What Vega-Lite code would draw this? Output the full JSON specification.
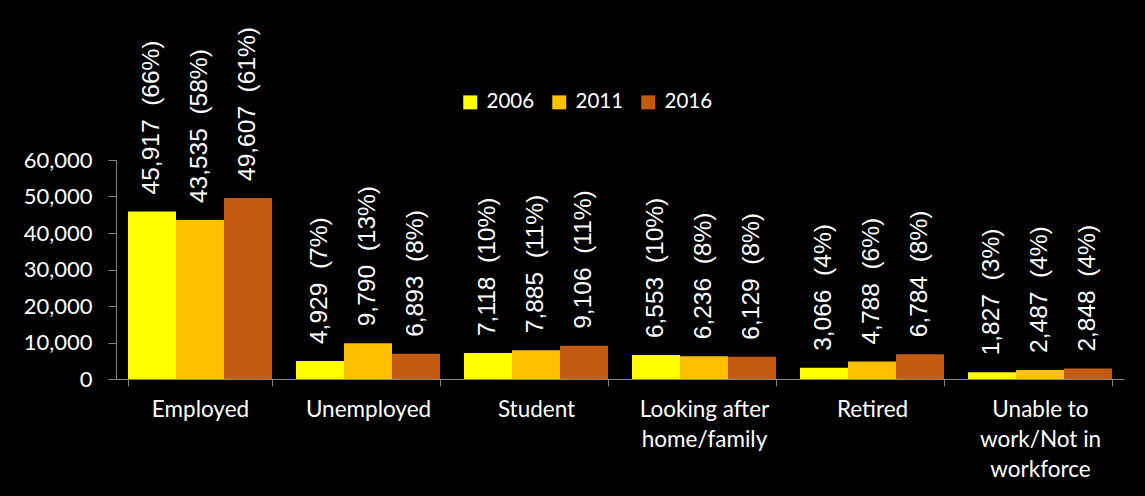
{
  "$schema": "https://vega.github.io/schema/vega-lite/v6.json",
  "autosize": {"type": "none"},
  "width": 1008,
  "height": 219,
  "padding": {"left": 116, "top": 160, "right": 21, "bottom": 117},
  "background": "#000000",
  "config": {"view": {"stroke": null}},
  "data": {
    "values": [
      {"status": "Employed", "year": "2006", "count": 45917, "label": "45,917 \u00a0(66%)"},
      {"status": "Employed", "year": "2011", "count": 43535, "label": "43,535 \u00a0(58%)"},
      {"status": "Employed", "year": "2016", "count": 49607, "label": "49,607 \u00a0(61%)"},
      {"status": "Unemployed", "year": "2006", "count": 4929, "label": "4,929 \u00a0(7%)"},
      {"status": "Unemployed", "year": "2011", "count": 9790, "label": "9,790 \u00a0(13%)"},
      {"status": "Unemployed", "year": "2016", "count": 6893, "label": "6,893 \u00a0(8%)"},
      {"status": "Student", "year": "2006", "count": 7118, "label": "7,118 \u00a0(10%)"},
      {"status": "Student", "year": "2011", "count": 7885, "label": "7,885 \u00a0(11%)"},
      {"status": "Student", "year": "2016", "count": 9106, "label": "9,106 \u00a0(11%)"},
      {"status": "Looking after home/family", "year": "2006", "count": 6553, "label": "6,553 \u00a0(10%)"},
      {"status": "Looking after home/family", "year": "2011", "count": 6236, "label": "6,236 \u00a0(8%)"},
      {"status": "Looking after home/family", "year": "2016", "count": 6129, "label": "6,129 \u00a0(8%)"},
      {"status": "Retired", "year": "2006", "count": 3066, "label": "3,066 \u00a0(4%)"},
      {"status": "Retired", "year": "2011", "count": 4788, "label": "4,788 \u00a0(6%)"},
      {"status": "Retired", "year": "2016", "count": 6784, "label": "6,784 \u00a0(8%)"},
      {"status": "Unable to work/Not in workforce", "year": "2006", "count": 1827, "label": "1,827 \u00a0(3%)"},
      {"status": "Unable to work/Not in workforce", "year": "2011", "count": 2487, "label": "2,487 \u00a0(4%)"},
      {"status": "Unable to work/Not in workforce", "year": "2016", "count": 2848, "label": "2,848 \u00a0(4%)"}
    ]
  },
  "encoding": {
    "x": {
      "field": "status",
      "type": "nominal",
      "sort": null,
      "scale": {"paddingInner": 0.143, "paddingOuter": 0.0715},
      "axis": {
        "title": null,
        "labelAngle": 0,
        "tickBand": "extent",
        "tickSize": 7,
        "tickColor": "#868686",
        "domainColor": "#868686",
        "labelColor": "#FFFFFF",
        "labelFont": "Lato",
        "labelFontSize": 22.5,
        "labelPadding": 12,
        "labelLineHeight": 30,
        "labelBaseline": "top",
        "labelLimit": 0,
        "labelExpr": "datum.value == 'Looking after home/family' ? ['Looking after', 'home/family'] : datum.value == 'Unable to work/Not in workforce' ? ['Unable to', 'work/Not in', 'workforce'] : datum.value"
      }
    },
    "xOffset": {"field": "year", "type": "nominal", "scale": {"paddingInner": 0, "paddingOuter": 0}},
    "y": {
      "field": "count",
      "type": "quantitative",
      "scale": {"domain": [0, 60000], "nice": false},
      "axis": {
        "title": null,
        "values": [0, 10000, 20000, 30000, 40000, 50000, 60000],
        "format": ",d",
        "grid": false,
        "tickSize": 8,
        "tickColor": "#868686",
        "domainColor": "#868686",
        "labelColor": "#FFFFFF",
        "labelFont": "Lato",
        "labelFontSize": 22,
        "labelPadding": 16
      }
    }
  },
  "layer": [
    {
      "mark": {"type": "bar"},
      "encoding": {
        "color": {
          "field": "year",
          "type": "nominal",
          "scale": {"domain": ["2006", "2011", "2016"], "range": ["#FFFF00", "#FFC000", "#C55A11"]},
          "legend": {
            "title": null,
            "orient": "none",
            "direction": "horizontal",
            "legendX": 344,
            "legendY": -68,
            "symbolType": "square",
            "symbolSize": 196,
            "symbolStrokeWidth": 0,
            "symbolOpacity": 1,
            "labelColor": "#FFFFFF",
            "labelFont": "Lato",
            "labelFontSize": 20.5,
            "labelOffset": 6,
            "columnPadding": 14
          }
        }
      }
    },
    {
      "mark": {
        "type": "text",
        "angle": 270,
        "align": "left",
        "baseline": "middle",
        "dx": 17,
        "color": "#FFFFFF",
        "font": "Liberation Sans",
        "fontSize": 24.5
      },
      "encoding": {"text": {"field": "label"}}
    }
  ]
}
